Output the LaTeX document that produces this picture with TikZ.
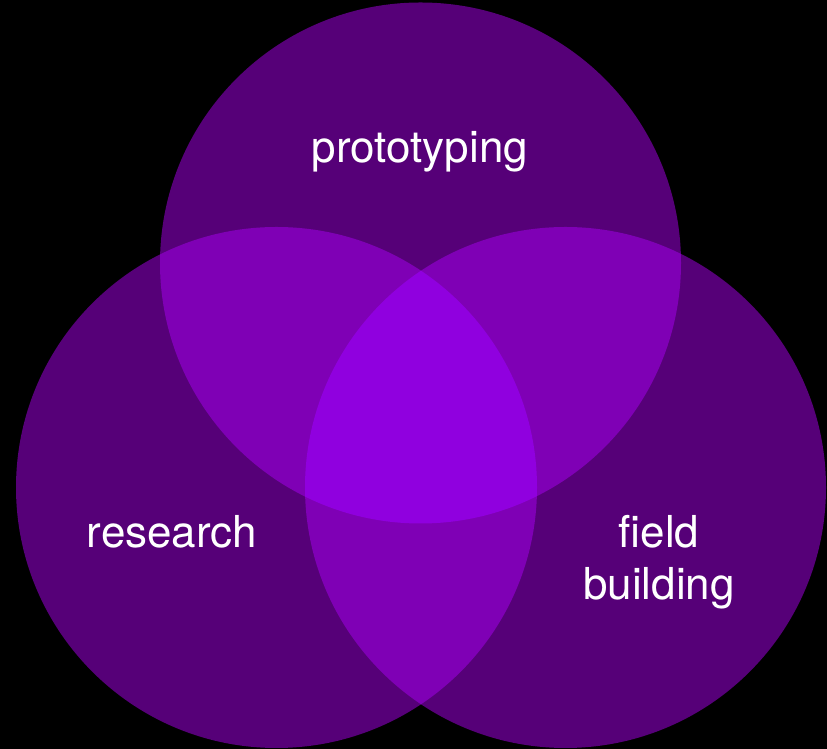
\documentclass[tikz,border=0pt]{standalone}
\usepackage{fontspec}
\setmainfont{TeX Gyre Heros}
\definecolor{one}{HTML}{560078}
\definecolor{two}{HTML}{7F00B5}
\definecolor{three}{HTML}{9000DF}
\tikzset{lbl/.style={text=white, font=\fontsize{44}{52}\selectfont, anchor=base, inner sep=0pt, align=center}}
\begin{document}
\begin{tikzpicture}[x=1pt,y=1pt]
\fill[black] (0,0) rectangle (827,749);
\useasboundingbox (0,0) rectangle (827,749);
\def\R{260.5}
\coordinate (T) at (420.5,486);
\coordinate (L) at (276.5,261.5);
\coordinate (Rc) at (565.5,261.5);
\fill[one] (T) circle (\R);
\fill[one] (L) circle (\R);
\fill[one] (Rc) circle (\R);
\begin{scope}
\clip (T) circle (\R);
\fill[two] (L) circle (\R);
\fill[two] (Rc) circle (\R);
\end{scope}
\begin{scope}
\clip (L) circle (\R);
\fill[two] (Rc) circle (\R);
\end{scope}
\begin{scope}
\clip (T) circle (\R);
\clip (L) circle (\R);
\fill[three] (Rc) circle (\R);
\end{scope}
\node[lbl] (p) at (420,586) {prototyping};
\node[lbl] (r) at (172,201) {research};
\node[lbl] (f) at (659,201) {field};
\node[lbl] (b) at (659,149) {building};
\end{tikzpicture}
\end{document}
